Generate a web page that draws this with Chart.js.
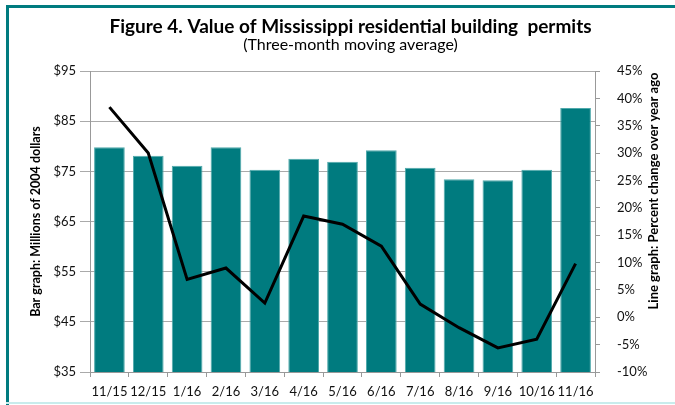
<!DOCTYPE html>
<html>
<head>
<meta charset="utf-8">
<script src="https://cdn.jsdelivr.net/npm/chart.js@4"></script>
<style>
  html, body { margin: 0; padding: 0; background: #fff; }
  #wrap { position: relative; width: 675px; height: 405px; overflow: hidden; }
  #wrap canvas { position: absolute; left: 0; top: 0; }
  .edge { position: absolute; }
  #topEdge { left: 6px; top: 5px; width: 669px; height: 3px; background: #007b7f; }
  #leftEdge { left: 6px; top: 5px; width: 3px; height: 400px; background: #007b7f; }
  #bottomEdge { left: 6px; top: 402px; width: 669px; height: 2px; background: #c8ecec; }
</style>
</head>
<body>
<div id="wrap">
  <canvas id="chart" width="675" height="405"></canvas>
  <div class="edge" id="topEdge"></div>
  <div class="edge" id="leftEdge"></div>
  <div class="edge" id="bottomEdge"></div>
</div>
<script>
// months (three-month moving average)
var months = ['11/15', '12/15', '1/16', '2/16', '3/16', '4/16', '5/16', '6/16', '7/16', '8/16', '9/16', '10/16', '11/16'];
// bar: millions of 2004 dollars
var permitValue = [79.8, 78.1, 76.1, 79.8, 75.3, 77.5, 76.9, 79.2, 75.7, 73.4, 73.2, 75.3, 87.6];
// line: percent change over year ago
var pctChange = [38.4, 30.0, 6.9, 9.0, 2.6, 18.5, 17.0, 13.0, 2.4, -1.9, -5.6, -4.0, 9.8];

var teal = '#007b7f', font = 'Lato, "Open Sans", sans-serif', txt = '#111';
var rightTitle = 'Line graph: Percent change over year ago';

Chart.defaults.font.family = font;
Chart.defaults.color = txt;

// right axis title reads bottom-to-top in the original, chart.js turns it the other way
var rightTitlePlugin = {
  id: 'rightTitle',
  afterDraw: function(chart){
    var ctx = chart.ctx, s = chart.scales.yR;
    ctx.save();
    ctx.translate(s.right - 21, 191);
    ctx.rotate(-Math.PI/2);
    ctx.font = 'bold 13px ' + font;
    ctx.fillStyle = '#000';
    ctx.textAlign = 'center';
    ctx.textBaseline = 'middle';
    ctx.fillText(rightTitle, 0, 0);
    ctx.restore();
  }
};

new Chart(document.getElementById('chart').getContext('2d'), {
  data: {
    labels: months,
    datasets: [{
      type: 'line',
      data: pctChange,
      yAxisID: 'yR',
      borderColor: '#000',
      borderWidth: 3,
      pointRadius: 0,
      tension: 0,
      order: 0
    }, {
      type: 'bar',
      data: permitValue,
      yAxisID: 'yL',
      backgroundColor: teal,
      borderColor: '#4fa9ab',
      borderWidth: 1,
      barPercentage: 0.79,
      categoryPercentage: 1,
      order: 1
    }]
  },
  options: {
    responsive: false,
    animation: false,
    layout: { padding: { left: 26, right: 0, top: 0, bottom: 4 } },
    plugins: {
      legend: { display: false },
      tooltip: { enabled: false },
      title: {
        display: true,
        text: 'Figure 4. Value of Mississippi residential building  permits',
        font: { size: 19, weight: 'bold', family: font, lineHeight: 1 },
        color: '#000',
        padding: { top: 17, bottom: 1 }
      },
      subtitle: {
        display: true,
        text: '(Three-month moving average)',
        font: { size: 16, family: font, lineHeight: 1 },
        color: '#000',
        padding: { top: 0, bottom: 18 }
      }
    },
    scales: {
      x: {
        offset: true,
        grid: { offset: true, drawOnChartArea: false, drawTicks: true, tickLength: 5, color: '#999' },
        border: { color: '#999' },
        ticks: { font: { size: 13 }, color: txt, maxRotation: 0, autoSkip: false, padding: 7 },
        afterFit: function(s){ s.height = 29; }
      },
      yL: {
        position: 'left',
        min: 35, max: 95,
        ticks: { stepSize: 10, font: { size: 13 }, color: txt, padding: 4,
          callback: function(v){ return '$' + v; } },
        grid: { color: '#aaa', tickLength: 10 },
        border: { color: '#999' },
        title: { display: true, text: 'Bar graph: Millions of 2004 dollars',
          font: { size: 12.5, weight: 'bold' }, color: '#000', padding: 2 },
        afterFit: function(s){ s.width = 64; }
      },
      yR: {
        position: 'right',
        min: -10, max: 45,
        ticks: { stepSize: 5, font: { size: 13 }, color: txt, padding: 17,
          callback: function(v){ return v + '%'; } },
        grid: { drawOnChartArea: false, tickLength: 5, color: '#999' },
        border: { color: '#999' },
        afterFit: function(s){ s.width = 80; }
      }
    }
  },
  plugins: [rightTitlePlugin]
});
</script>
</body>
</html>
